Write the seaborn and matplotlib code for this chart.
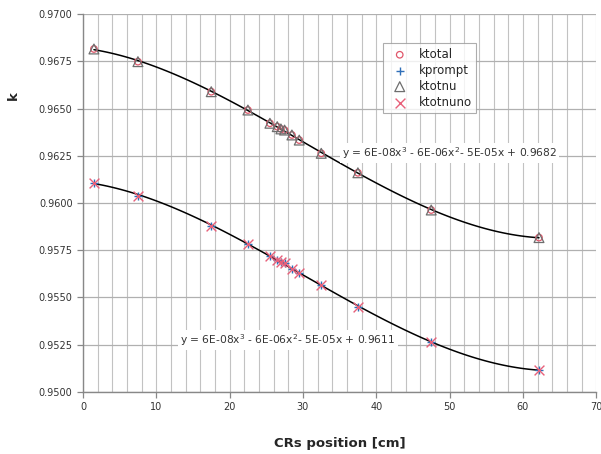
import numpy as np
import pandas as pd
import matplotlib
matplotlib.use("Agg")
import matplotlib.pyplot as plt
import seaborn as sns

# CR positions [cm]
position = [1.5, 7.5, 17.5, 22.5, 25.5, 26.5, 27.0, 27.5, 28.5, 29.5, 32.5, 37.5, 47.5, 62.2]

# k values
ktotal = [0.96815, 0.96748, 0.96589, 0.96492, 0.96422, 0.96404, 0.96392, 0.96386,
          0.96360, 0.96333, 0.96263, 0.96160, 0.95963, 0.95817]
ktotnu = [0.96815, 0.96748, 0.96589, 0.96492, 0.96422, 0.96404, 0.96392, 0.96386,
          0.96360, 0.96333, 0.96263, 0.96160, 0.95963, 0.95817]
kprompt = [0.96107, 0.96039, 0.95880, 0.95783, 0.95720, 0.95700, 0.95690, 0.95680,
           0.95649, 0.95631, 0.95566, 0.95448, 0.95266, 0.95116]
ktotnuno = [0.96107, 0.96039, 0.95880, 0.95783, 0.95720, 0.95700, 0.95690, 0.95680,
            0.95649, 0.95631, 0.95566, 0.95448, 0.95266, 0.95116]

eq_top = "y = 6E-08x$^3$ - 6E-06x$^2$- 5E-05x + 0.9682"
eq_bottom = "y = 6E-08x$^3$ - 6E-06x$^2$- 5E-05x + 0.9611"

df = pd.DataFrame({"pos": position, "ktotal": ktotal, "kprompt": kprompt,
                   "ktotnu": ktotnu, "ktotnuno": ktotnuno})

sns.set_style("white")
plt.rcParams["font.family"] = ["DejaVu Sans"]

fig = plt.figure(figsize=(6.01, 4.54), dpi=100)
ax = fig.add_axes([0.138, 0.1366, 0.854, 0.8325])

# cubic trendlines
for col in ["ktotnu", "ktotnuno"]:
    sns.regplot(data=df, x="pos", y=col, order=3, ci=None, scatter=False, ax=ax,
                line_kws={"color": "black", "lw": 1.1, "zorder": 3})

# series markers
sns.scatterplot(data=df, x="pos", y="ktotal", ax=ax, marker="o", s=22,
                facecolor="none", edgecolor="#e0566a", linewidth=0.9, label="ktotal", zorder=4)
sns.scatterplot(data=df, x="pos", y="kprompt", ax=ax, marker="+", s=40,
                color="#2f6fb8", linewidth=1.0, label="kprompt", zorder=4)
sns.scatterplot(data=df, x="pos", y="ktotnu", ax=ax, marker="^", s=50,
                facecolor="none", edgecolor="#6e6e6e", linewidth=0.9, label="ktotnu", zorder=5)
sns.scatterplot(data=df, x="pos", y="ktotnuno", ax=ax, marker="x", s=50,
                color="#e8607a", linewidth=1.0, label="ktotnuno", zorder=5)

ax.set_xlim(0, 70)
ax.set_ylim(0.95, 0.97)
ax.set_xticks(np.arange(0, 71, 10))
ax.set_xticks(np.arange(0, 71, 2), minor=True)
ax.set_yticks(np.arange(0.95, 0.97001, 0.0025))
ax.set_yticklabels([f"{v:.4f}" for v in np.arange(0.95, 0.97001, 0.0025)])

ax.grid(True, which="both", axis="x", color="#c2c2c2", lw=0.8)
ax.grid(True, which="major", axis="y", color="#b0b0b0", lw=0.9)
ax.set_axisbelow(True)
ax.tick_params(axis="both", which="major", labelsize=7, labelcolor="#333333",
               length=4, width=0.9, color="#888888", direction="out", bottom=True, left=True)
ax.tick_params(axis="x", which="minor", length=0)

for side in ["top", "right"]:
    ax.spines[side].set_visible(False)
for side in ["left", "bottom"]:
    ax.spines[side].set_color("#888888")
    ax.spines[side].set_linewidth(1.0)

ax.set_xlabel("CRs position [cm]", fontsize=9.5, fontweight="bold", labelpad=18)
ax.set_ylabel("")
fig.text(0.022, 0.79, "k", fontsize=9.5, fontweight="bold", rotation=90, ha="center", va="center")

box = dict(facecolor="white", edgecolor="none", pad=1.5)
ax.text(35.3, 0.96265, eq_top, fontsize=7.7, color="#333333", va="center", ha="left",
        bbox=box, zorder=6)
ax.text(13.3, 0.95275, eq_bottom, fontsize=7.7, color="#333333", va="center", ha="left",
        bbox=box, zorder=6)

leg = ax.legend(loc="upper left", bbox_to_anchor=(0.585, 0.923), borderaxespad=0,
                fontsize=8.5, frameon=True, fancybox=False, edgecolor="#999999",
                handletextpad=0.6, labelspacing=0.25, borderpad=0.4)
leg.get_frame().set_linewidth(0.8)

fig.savefig("out.png", dpi=100)
